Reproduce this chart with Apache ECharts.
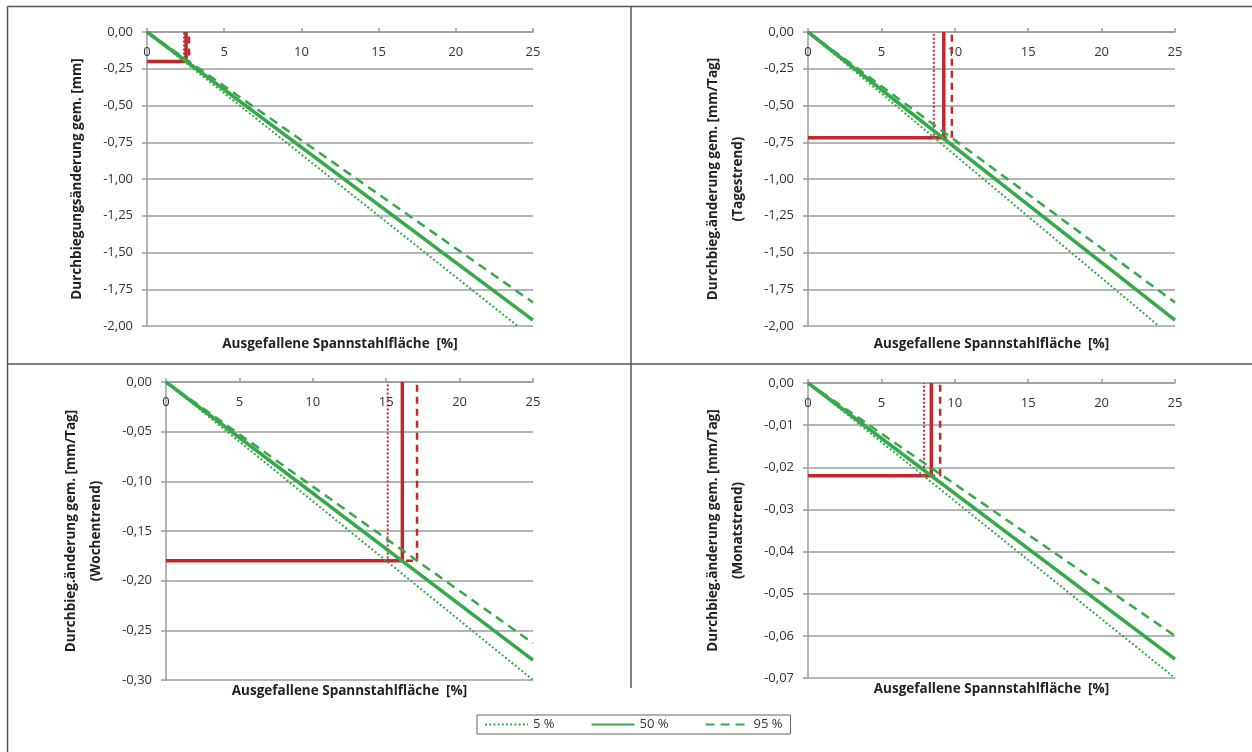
<!DOCTYPE html>
<html>
<head>
<meta charset="utf-8">
<script src="https://cdn.jsdelivr.net/npm/echarts@6/dist/echarts.min.js"></script>
<style>
  html, body { margin: 0; padding: 0; background: #ffffff; }
  #chart { width: 1252px; height: 752px; }
</style>
</head>
<body>
<div id="chart"></div>
<script>
// ---- data ----------------------------------------------------------------
const quantileNames = ['5 %', '50 %', '95 %'];
const xTitle = 'Ausgefallene Spannstahlfläche  [%]';
const xRange = [0, 25, 5];            // min, max, interval (failed tendon area in %)

const yTitles = [
  'Durchbiegungsänderung gem. [mm]',
  'Durchbieg.änderung gem. [mm/Tag]\n(Tagestrend)',
  'Durchbieg.änderung gem. [mm/Tag]\n(Wochentrend)',
  'Durchbieg.änderung gem. [mm/Tag]\n(Monatstrend)'
];
const yRanges = [            // min, max, interval
  [-2.00, 0, 0.25],
  [-2.00, 0, 0.25],
  [-0.30, 0, 0.05],
  [-0.07, 0, 0.01]
];

// quantile lines per panel: [x %, change]
const q05 = [
  [[0, 0], [24.0, -2.00]],
  [[0, 0], [23.9, -2.00]],
  [[0, 0], [25, -0.300]],
  [[0, 0], [25, -0.070]]
];
const q50 = [
  [[0, 0], [25, -1.96]],
  [[0, 0], [25, -1.96]],
  [[0, 0], [25, -0.280]],
  [[0, 0], [25, -0.0655]]
];
const q95 = [
  [[0, 0], [25, -1.84]],
  [[0, 0], [25, -1.84]],
  [[0, 0], [25, -0.263]],
  [[0, 0], [25, -0.060]]
];

// measured change per panel and the failed area at which each quantile reaches it
const measured = [-0.20, -0.72, -0.18, -0.022];
const cross05  = [2.40, 8.57, 15.1, 7.9];
const cross50  = [2.53, 9.25, 16.1, 8.4];
const cross95  = [2.72, 9.80, 17.1, 9.0];

// ---- styling ----------------------------------------------------------------
const GREEN = '#36a94a';
const RED = '#c1272d';
const GRID = '#9c9c9c';
const TEXT = '#333333';
const FONT = "'Open Sans', 'Noto Sans', sans-serif";

const lineStyles = [
  { width: 2,   type: [2, 2.2] },  // 5 %
  { width: 3.5, type: 'solid' },   // 50 %
  { width: 2.5, type: [9, 6] }     // 95 %
];
const redStyles = [
  { width: 2,   type: [2, 2] },
  { width: 3.5, type: 'solid' },
  { width: 2.5, type: [7, 5] }
];

const gridBoxes = [
  { left: 147, top: 32,  width: 386, height: 294 },
  { left: 808, top: 32,  width: 367, height: 294 },
  { left: 166, top: 382, width: 367, height: 298 },
  { left: 808, top: 383, width: 367, height: 295 }
];

const yFmt = v => (Math.abs(v) < 1e-9 ? 0 : v).toFixed(2).replace('.', ',');

const grid = [], xAxis = [], yAxis = [], series = [];

gridBoxes.forEach((box, i) => {
  grid.push(Object.assign({ containLabel: false }, box));

  // visible axis along the zero line (top)
  xAxis.push({
    gridIndex: i, type: 'value', position: 'top',
    min: xRange[0], max: xRange[1], interval: xRange[2],
    axisLine: { show: true, onZero: false, lineStyle: { color: GRID, width: 1.5 } },
    axisTick: { show: true, inside: false, length: 4, lineStyle: { color: GRID, width: 1.5 } },
    axisLabel: { inside: true, margin: 14, color: TEXT, fontSize: 13, fontFamily: FONT },
    splitLine: { show: false }
  });
  // bottom axis only carries the title
  xAxis.push({
    gridIndex: i, type: 'value', position: 'bottom',
    min: xRange[0], max: xRange[1], interval: xRange[2],
    name: xTitle, nameLocation: 'middle', nameGap: i < 2 ? 11 : 4,
    nameTextStyle: { color: '#222', fontSize: 13.5, fontWeight: 'bold', fontFamily: FONT },
    axisLine: { show: false }, axisTick: { show: false },
    axisLabel: { show: false }, splitLine: { show: false }
  });

  const yr = yRanges[i];
  yAxis.push({
    gridIndex: i, type: 'value',
    min: yr[0], max: yr[1], interval: yr[2],
    name: yTitles[i], nameLocation: 'middle', nameRotate: 90, nameGap: 57,
    nameTextStyle: { color: '#222', fontSize: 13.5, fontWeight: 'bold', fontFamily: FONT, lineHeight: 25 },
    axisLine: { show: true, lineStyle: { color: GRID, width: 1.5 } },
    axisTick: { show: true, length: 5, lineStyle: { color: GRID, width: 1.5 } },
    axisLabel: { margin: 14, color: TEXT, fontSize: 13, fontFamily: FONT, formatter: yFmt },
    splitLine: { show: true, lineStyle: { color: GRID, width: 1.5 } }
  });

  // red read-off lines for the measured value
  const crosses = [cross05[i], cross50[i], cross95[i]];
  [0, 2, 1].forEach(k => {
    series.push({
      name: 'Messwert ' + quantileNames[k],
      type: 'line', xAxisIndex: 2 * i, yAxisIndex: i,
      symbol: 'none', silent: true, animation: false,
      lineStyle: Object.assign({ color: RED }, redStyles[k]),
      data: [[0, measured[i]], [crosses[k], measured[i]], [crosses[k], 0]]
    });
  });

  // quantile lines
  [q05, q50, q95].forEach((q, k) => {
    series.push({
      name: quantileNames[k],
      type: 'line', xAxisIndex: 2 * i, yAxisIndex: i,
      symbol: 'none', animation: false, clip: true,
      itemStyle: { color: GREEN },
      lineStyle: Object.assign({ color: GREEN }, lineStyles[k]),
      data: q[i]
    });
  });
});

const frame = { stroke: '#555', lineWidth: 1.5 };
const option = {
  backgroundColor: '#ffffff',
  animation: false,
  grid, xAxis, yAxis, series,
  legend: {
    data: quantileNames,
    left: 477, top: 715,
    itemWidth: 43, itemHeight: 4, itemGap: 36,
    padding: [3, 8, 3, 7],
    borderColor: '#666', borderWidth: 1,
    itemStyle: { opacity: 0 },
    textStyle: { color: TEXT, fontSize: 13, fontFamily: FONT },
    selectedMode: false
  },
  graphic: [
    { type: 'line', shape: { x1: 7.5, y1: 6.5, x2: 1252, y2: 6.5 }, style: frame, silent: true },
    { type: 'line', shape: { x1: 7.5, y1: 6.5, x2: 7.5, y2: 752 }, style: frame, silent: true },
    { type: 'line', shape: { x1: 7.5, y1: 364, x2: 1252, y2: 364 }, style: frame, silent: true },
    { type: 'line', shape: { x1: 631, y1: 6.5, x2: 631, y2: 688 }, style: frame, silent: true }
  ]
};

const chart = echarts.init(document.getElementById('chart'), null, { renderer: 'canvas' });
chart.setOption(option);
</script>
</body>
</html>
